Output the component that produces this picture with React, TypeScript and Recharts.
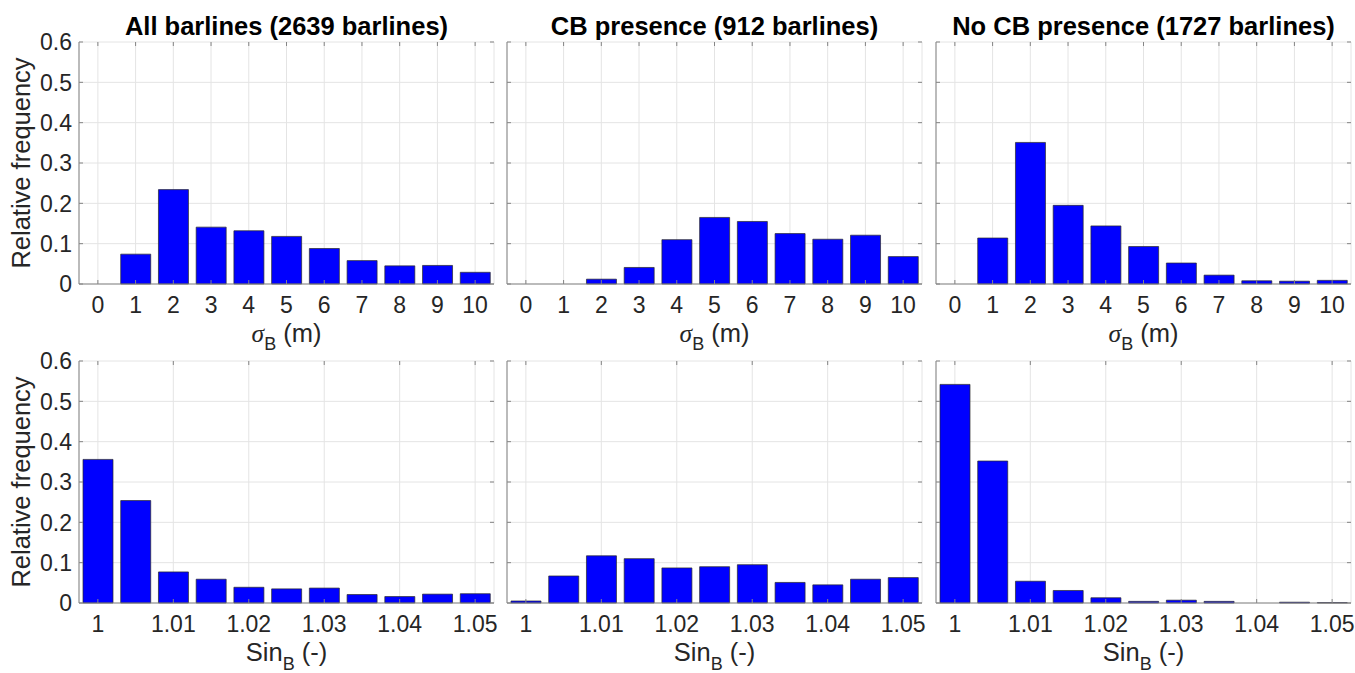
import React from 'react';
import { BarChart, Bar, XAxis, YAxis, CartesianGrid } from 'recharts';

// bin centres of the two histograms
const sigmaBins = [0, 1, 2, 3, 4, 5, 6, 7, 8, 9, 10];
const sinBins = [1, 1.005, 1.01, 1.015, 1.02, 1.025, 1.03, 1.035, 1.04, 1.045, 1.05];

// axis ticks and their labels
const sigmaTicks = [0, 1, 2, 3, 4, 5, 6, 7, 8, 9, 10];
const sigmaTickLabels = ['0', '1', '2', '3', '4', '5', '6', '7', '8', '9', '10'];
const sinTicks = [1, 1.01, 1.02, 1.03, 1.04, 1.05];
const sinTickLabels = ['1', '1.01', '1.02', '1.03', '1.04', '1.05'];
const freqTicks = [0, 0.1, 0.2, 0.3, 0.4, 0.5, 0.6];
const freqTickLabels = ['0', '0.1', '0.2', '0.3', '0.4', '0.5', '0.6'];

// relative frequency of barline spacing sigma_B
const allSigma = [0, 0.074, 0.234, 0.141, 0.132, 0.118, 0.088, 0.058, 0.045, 0.046, 0.029];
const cbSigma = [0, 0, 0.012, 0.041, 0.11, 0.165, 0.155, 0.125, 0.111, 0.121, 0.068];
const noCbSigma = [0, 0.114, 0.351, 0.195, 0.144, 0.093, 0.052, 0.022, 0.008, 0.007, 0.009];

// relative frequency of barline sinuosity Sin_B
const allSin = [0.356, 0.254, 0.077, 0.059, 0.039, 0.035, 0.037, 0.021, 0.016, 0.022, 0.023];
const cbSin = [0.005, 0.067, 0.117, 0.11, 0.087, 0.09, 0.095, 0.051, 0.045, 0.059, 0.063];
const noCbSin = [0.542, 0.352, 0.054, 0.031, 0.013, 0.004, 0.007, 0.004, 0, 0.002, 0.001];

const titles = [
  'All barlines (2639 barlines)',
  'CB presence (912 barlines)',
  'No CB presence (1727 barlines)',
];

const FONT = '"Liberation Sans", Arial, Helvetica, sans-serif';
const INK = '#262626';
const FRAME = '#858585';
const GRID = '#e4e4e4';
const BAR = '#0000ff';

// panel geometry (chart-local pixels)
const AXIS_W = 79;
const TOP = 42;
const PLOT_W = 415;
const PLOT_H = 242;
const BOTTOM = 70;
const RIGHT = 4;
const BOX_LEFT = AXIS_W;
const BOX_RIGHT = AXIS_W + PLOT_W;
const BOX_TOP = TOP;
const BOX_BOTTOM = TOP + PLOT_H;
const CHART_W = AXIS_W + PLOT_W + RIGHT;
const CHART_H = TOP + PLOT_H + BOTTOM;
const TICK_LEN = 4;

const colLeft = [0, 428, 857];
const rowTop = [0, 319];

type Row = { x: number; v: number };

const makeRows = (bins: number[], values: number[]): Row[] =>
  bins.map((x, i) => ({ x, v: values[i] }));

const makeXTick = (labels: string[]) => (props: any) => {
  const { x, index } = props;
  return (
    <g>
      <line x1={x} x2={x} y1={BOX_BOTTOM} y2={BOX_BOTTOM - TICK_LEN} stroke={FRAME} />
      <line x1={x} x2={x} y1={BOX_TOP} y2={BOX_TOP + TICK_LEN} stroke={FRAME} />
      <text x={x} y={BOX_BOTTOM + 29} textAnchor="middle" fontSize={23} fontFamily={FONT} fill={INK}>
        {labels[index]}
      </text>
    </g>
  );
};

const makeYTick = (showLabels: boolean) => (props: any) => {
  const { y, index } = props;
  return (
    <g>
      <line x1={BOX_LEFT} x2={BOX_LEFT + TICK_LEN} y1={y} y2={y} stroke={FRAME} />
      <line x1={BOX_RIGHT - TICK_LEN} x2={BOX_RIGHT} y1={y} y2={y} stroke={FRAME} />
      {showLabels && (
        <text
          x={BOX_LEFT - 7}
          y={y}
          dy="0.36em"
          textAnchor="end"
          fontSize={23}
          fontFamily={FONT}
          fill={INK}
        >
          {freqTickLabels[index]}
        </text>
      )}
    </g>
  );
};

const SigmaTitle = () => (
  <text
    x={BOX_LEFT + PLOT_W / 2}
    y={BOX_BOTTOM + 58}
    textAnchor="middle"
    fontSize={25.5}
    fontFamily={FONT}
    fill={INK}
    style={{ whiteSpace: 'pre' }}
  >
    <tspan fontFamily='"Liberation Serif", "DejaVu Serif", serif' fontStyle="italic">σ</tspan>
    <tspan fontSize={18} dy={8}>B</tspan>
    <tspan dy={-8}>{' (m)'}</tspan>
  </text>
);

const SinTitle = () => (
  <text
    x={BOX_LEFT + PLOT_W / 2}
    y={BOX_BOTTOM + 58}
    textAnchor="middle"
    fontSize={25.5}
    fontFamily={FONT}
    fill={INK}
    style={{ whiteSpace: 'pre' }}
  >
    <tspan>Sin</tspan>
    <tspan fontSize={18} dy={9}>B</tspan>
    <tspan dy={-9}>{' (-)'}</tspan>
  </text>
);

type PanelProps = {
  rows: Row[];
  domain: [number, number];
  ticks: number[];
  tickLabels: string[];
  title?: string;
  xTitle: 'sigma' | 'sin';
  yLabels: boolean;
  left: number;
  top: number;
};

const Panel = ({ rows, domain, ticks, tickLabels, title, xTitle, yLabels, left, top }: PanelProps) => (
  <div style={{ position: 'absolute', left, top, width: CHART_W, height: CHART_H }}>
    <BarChart
      width={CHART_W}
      height={CHART_H}
      data={rows}
      margin={{ top: TOP, right: RIGHT, bottom: 0, left: 0 }}
    >
      <CartesianGrid stroke={GRID} strokeWidth={1} />
      <XAxis
        type="number"
        dataKey="x"
        domain={domain}
        ticks={ticks}
        interval={0}
        height={BOTTOM}
        tickLine={false}
        axisLine={{ stroke: FRAME }}
        tick={makeXTick(tickLabels)}
      />
      <XAxis
        xAxisId="top"
        orientation="top"
        type="number"
        dataKey="x"
        domain={domain}
        height={0}
        tick={false}
        tickLine={false}
        axisLine={{ stroke: FRAME }}
      />
      <YAxis
        type="number"
        domain={[0, 0.6]}
        ticks={freqTicks}
        interval={0}
        width={AXIS_W}
        tickLine={false}
        axisLine={{ stroke: FRAME }}
        tick={makeYTick(yLabels)}
      />
      <YAxis
        yAxisId="right"
        orientation="right"
        type="number"
        domain={[0, 0.6]}
        width={0}
        tick={false}
        tickLine={false}
        axisLine={{ stroke: FRAME }}
      />
      <Bar
        dataKey="v"
        fill={BAR}
        stroke="#2a2a2a"
        strokeWidth={0.7}
        barSize={30}
        isAnimationActive={false}
      />
      {title && (
        <text
          x={BOX_LEFT + PLOT_W / 2}
          y={35}
          textAnchor="middle"
          fontSize={25.5}
          fontWeight="bold"
          fontFamily={FONT}
          fill="#000"
        >
          {title}
        </text>
      )}
      {yLabels && (
        <text
          transform="rotate(-90)"
          x={-(BOX_TOP + PLOT_H / 2)}
          y={30}
          textAnchor="middle"
          fontSize={25.5}
          fontFamily={FONT}
          fill={INK}
        >
          Relative frequency
        </text>
      )}
      {xTitle === 'sigma' ? <SigmaTitle /> : <SinTitle />}
    </BarChart>
  </div>
);

const sigmaSets = [allSigma, cbSigma, noCbSigma];
const sinSets = [allSin, cbSin, noCbSin];

export default function App() {
  return (
    <div
      style={{
        position: 'absolute',
        left: 0,
        top: 0,
        width: 1355,
        height: 673,
        overflow: 'hidden',
        background: '#fff',
      }}
    >
      {sigmaSets.map((values, c) => (
        <Panel
          key={`s${c}`}
          rows={makeRows(sigmaBins, values)}
          domain={[-0.5, 10.5]}
          ticks={sigmaTicks}
          tickLabels={sigmaTickLabels}
          title={titles[c]}
          xTitle="sigma"
          yLabels={c === 0}
          left={colLeft[c]}
          top={rowTop[0]}
        />
      ))}
      {sinSets.map((values, c) => (
        <Panel
          key={`b${c}`}
          rows={makeRows(sinBins, values)}
          domain={[0.9975, 1.0525]}
          ticks={sinTicks}
          tickLabels={sinTickLabels}
          xTitle="sin"
          yLabels={c === 0}
          left={colLeft[c]}
          top={rowTop[1]}
        />
      ))}
    </div>
  );
}
